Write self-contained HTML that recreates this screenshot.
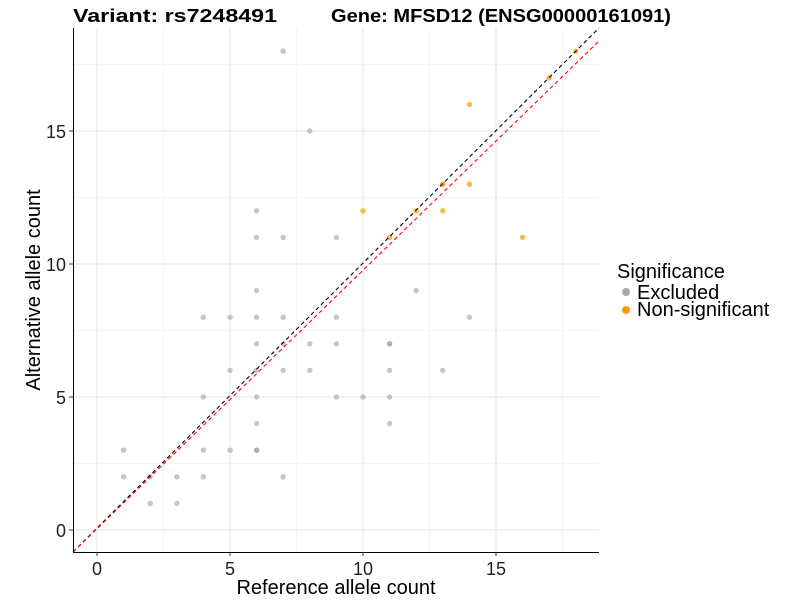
<!DOCTYPE html>
<html><head><meta charset="utf-8"><style>body{margin:0;background:#fff}svg{display:block}</style></head><body>
<svg width="800" height="600" xmlns="http://www.w3.org/2000/svg" font-family="Liberation Sans, sans-serif">
<rect width="800" height="600" fill="#fff"/>
<g stroke="#f3f3f3" stroke-width="0.8">
<line x1="73" x2="599" y1="463.5" y2="463.5"/><line x1="73" x2="599" y1="330.5" y2="330.5"/><line x1="73" x2="599" y1="197.5" y2="197.5"/><line x1="73" x2="599" y1="64.5" y2="64.5"/>
<line y1="28" y2="552" x1="163.5" x2="163.5"/><line y1="28" y2="552" x1="296.5" x2="296.5"/><line y1="28" y2="552" x1="429.5" x2="429.5"/><line y1="28" y2="552" x1="562.5" x2="562.5"/>
</g>
<g stroke="#e6e6e6" stroke-width="1">
<line x1="73" x2="599" y1="530" y2="530"/><line x1="73" x2="599" y1="397" y2="397"/><line x1="73" x2="599" y1="264" y2="264"/><line x1="73" x2="599" y1="131" y2="131"/>
<line y1="28" y2="552" x1="97" x2="97"/><line y1="28" y2="552" x1="230" x2="230"/><line y1="28" y2="552" x1="363" x2="363"/><line y1="28" y2="552" x1="496" x2="496"/>
</g>
<g id="pts"></g>
<line x1="73" y1="552" x2="599" y2="28" stroke="#000" stroke-width="1.1" stroke-dasharray="4,3"/>
<line x1="73" y1="552" x2="599" y2="41" stroke="#ff0000" stroke-width="1.1" stroke-dasharray="4,3"/>
<line x1="73.5" y1="28" x2="73.5" y2="552" stroke="#000" stroke-width="1"/>
<line x1="73" y1="552.5" x2="599" y2="552.5" stroke="#000" stroke-width="1"/>
<g stroke="#333"><line x1="69" x2="73" y1="530" y2="530"/><line x1="69" x2="73" y1="397" y2="397"/><line x1="69" x2="73" y1="264" y2="264"/><line x1="69" x2="73" y1="131" y2="131"/>
<line y1="552" y2="556" x1="97" x2="97"/><line y1="552" y2="556" x1="230" x2="230"/><line y1="552" y2="556" x1="363" x2="363"/><line y1="552" y2="556" x1="496" x2="496"/></g>
<g font-size="18" fill="#222" text-anchor="end"><text x="66" y="537">0</text><text x="66" y="404">5</text><text x="66" y="271">10</text><text x="66" y="138">15</text></g>
<g font-size="18" fill="#222" text-anchor="middle"><text x="97" y="575">0</text><text x="230" y="575">5</text><text x="363" y="575">10</text><text x="496" y="575">15</text></g>
<text x="336" y="594" font-size="20" text-anchor="middle">Reference allele count</text>
<text transform="translate(40,290) rotate(-90)" font-size="20" text-anchor="middle">Alternative allele count</text>
<text x="73" y="22" font-size="18" font-weight="bold" textLength="204" lengthAdjust="spacingAndGlyphs">Variant: rs7248491</text>
<text x="331" y="22" font-size="18" font-weight="bold" textLength="340" lengthAdjust="spacingAndGlyphs">Gene: MFSD12 (ENSG00000161091)</text>
<text x="617" y="278" font-size="20">Significance</text>
<circle cx="626" cy="292" r="4" fill="#aaaaaa"/><text x="637" y="299" font-size="20">Excluded</text>
<circle cx="626" cy="310" r="4" fill="#ff9900"/><text x="637" y="316" font-size="20">Non-significant</text>
</svg>
<script>
var g=[[1,3],[1,2],[2,2],[2,1],[3,2],[3,1],[4,8],[4,5],[4,3],[4,2],[5,8],[5,6],[5,3],[6,12],[6,11],[6,9],[6,8],[6,7],[6,6],[6,5],[6,4],[6,3],[6,3],[7,18],[7,11],[7,8],[7,7],[7,6],[7,2],[8,15],[8,7],[8,6],[9,11],[9,8],[9,7],[9,5],[10,5],[11,7],[11,7],[11,6],[11,5],[11,4],[12,9],[13,6],[14,8]];
var o=[[18,18],[17,17],[14,16],[13,13],[13,13],[14,13],[10,12],[12,12],[13,12],[11,11],[16,11]];
var N='http://www.w3.org/2000/svg',p=document.getElementById('pts');
function add(a,c,op){a.forEach(function(d){var e=document.createElementNS(N,'circle');e.setAttribute('cx',97+d[0]*26.6);e.setAttribute('cy',530-d[1]*26.6);e.setAttribute('r',2.7);e.setAttribute('fill',c);e.setAttribute('fill-opacity',op);p.appendChild(e);});}
add(g,'#a0a0a0',0.6);add(o,'#ff9900',0.7);
</script>
</body></html>
